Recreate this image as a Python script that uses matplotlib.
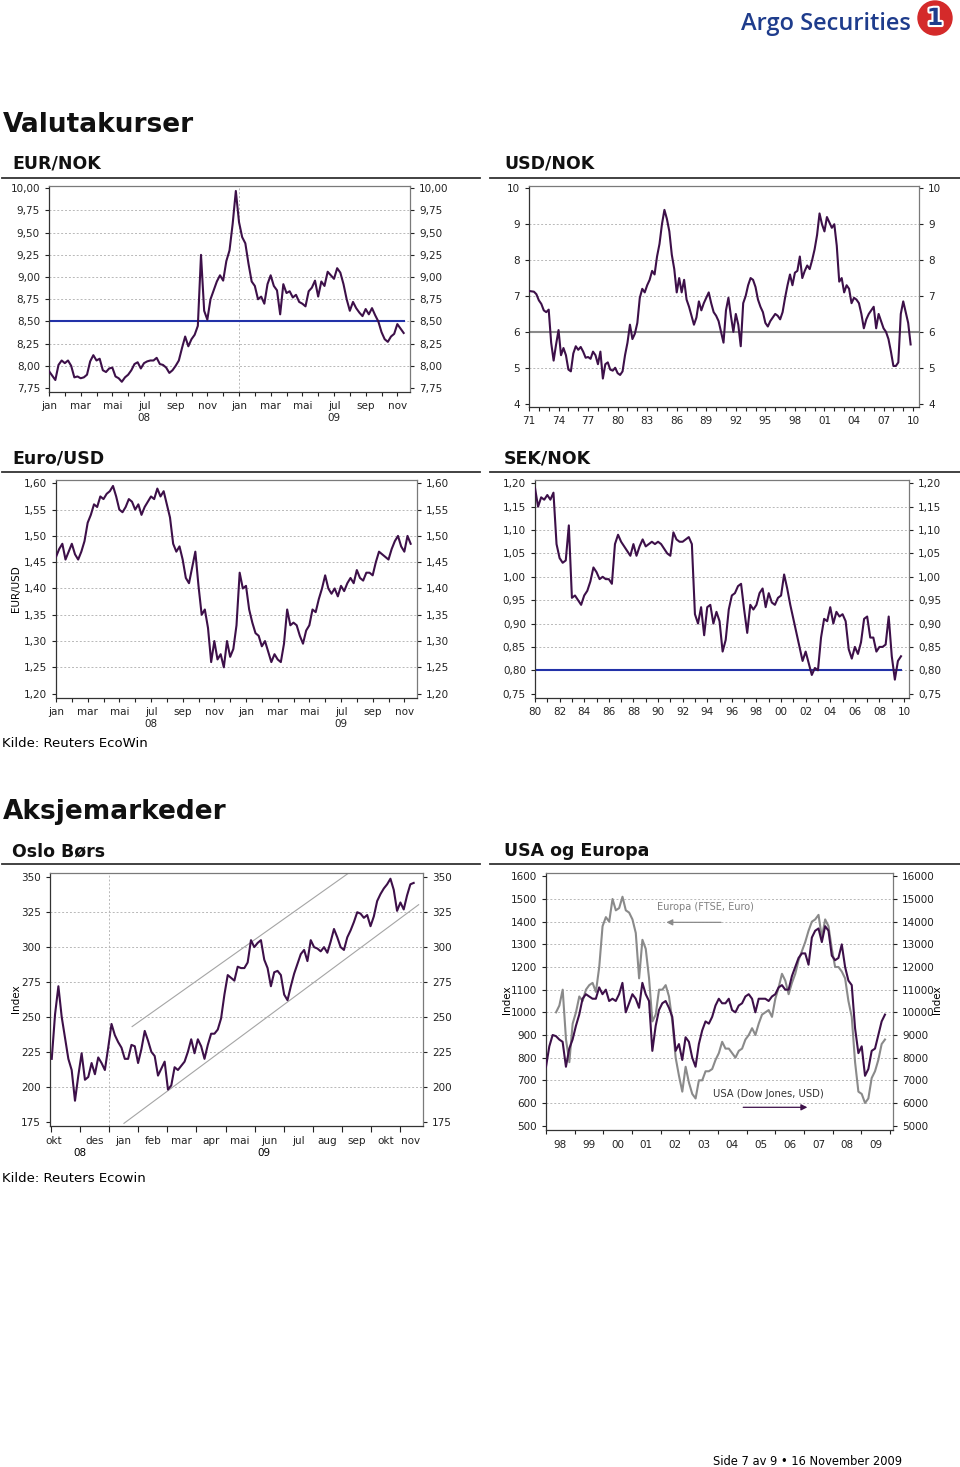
# -*- coding: utf-8 -*-
# Side 7: Valutakurser og Aksjemarkeder
import numpy as np
import matplotlib.pyplot as plt
from matplotlib.lines import Line2D
from matplotlib.patches import Ellipse
import matplotlib.patheffects as pe

plt.rcParams['font.family'] = ['DejaVu Sans']

# ---------------- data ----------------
# EUR/NOK, months since 1 jan 2008
eurnok_start, eurnok_end = 0.0, 22.4
eurnok = [7.94, 7.89, 7.84, 8.01, 8.06, 8.03, 8.06, 8.00, 7.87, 7.88, 7.86, 7.87, 7.90, 8.05, 8.12,
          8.06, 8.08, 7.95, 7.93, 7.97, 7.98, 7.88, 7.86, 7.82, 7.87, 7.90, 7.95, 8.02, 8.04, 7.97,
          8.03, 8.05, 8.06, 8.06, 8.09, 8.02, 8.01, 7.98, 7.92, 7.95, 8.00, 8.06, 8.20, 8.33, 8.22,
          8.30, 8.35, 8.45, 9.25, 8.62, 8.52, 8.75, 8.85, 8.95, 9.02, 8.96, 9.18, 9.30, 9.60, 9.97,
          9.62, 9.45, 9.38, 9.15, 8.95, 8.90, 8.75, 8.78, 8.70, 8.92, 9.02, 8.90, 8.85, 8.58, 8.92,
          8.82, 8.84, 8.77, 8.80, 8.72, 8.70, 8.67, 8.84, 8.88, 8.96, 8.78, 8.95, 8.90, 9.06, 9.02,
          8.98, 9.10, 9.05, 8.92, 8.75, 8.62, 8.72, 8.65, 8.60, 8.56, 8.64, 8.58, 8.65, 8.57, 8.50,
          8.38, 8.30, 8.27, 8.33, 8.36, 8.47, 8.42, 8.37]
eurnok_ref = 8.50

# USD/NOK, quarterly from 1971
usdnok_start, usdnok_end = 1971.0, 2009.75
usdnok = [7.14, 7.13, 7.12, 7.05, 6.88, 6.78, 6.60, 6.55, 6.62, 5.70, 5.20, 5.65, 6.05, 5.35, 5.55,
          5.35, 4.95, 4.90, 5.40, 5.60, 5.50, 5.58, 5.45, 5.28, 5.30, 5.25, 5.45, 5.35, 5.10, 5.45,
          4.70, 5.10, 5.15, 4.95, 4.92, 5.00, 4.85, 4.80, 4.90, 5.35, 5.70, 6.20, 5.80, 5.95, 6.25,
          6.95, 7.20, 7.10, 7.30, 7.45, 7.70, 7.60, 8.10, 8.45, 9.00, 9.40, 9.15, 8.80, 8.15, 7.75,
          7.10, 7.50, 7.10, 7.45, 6.90, 6.70, 6.45, 6.20, 6.40, 6.85, 6.60, 6.80, 6.95, 7.10, 6.80,
          6.55, 6.45, 6.30, 6.00, 5.70, 6.60, 6.95, 6.45, 6.00, 6.50, 6.20, 5.60, 6.80, 7.00, 7.30,
          7.50, 7.45, 7.25, 6.90, 6.70, 6.55, 6.25, 6.15, 6.30, 6.40, 6.50, 6.45, 6.35, 6.55, 6.95,
          7.30, 7.60, 7.30, 7.65, 7.70, 8.10, 7.50, 7.70, 7.85, 7.75, 8.00, 8.30, 8.70, 9.30, 9.00,
          8.80, 9.20, 9.05, 8.90, 9.00, 8.40, 7.40, 7.50, 7.10, 7.30, 7.20, 6.80, 6.95, 6.90, 6.80,
          6.50, 6.10, 6.35, 6.50, 6.60, 6.70, 6.10, 6.50, 6.30, 6.10, 6.00, 5.80, 5.45, 5.05, 5.05,
          5.15, 6.50, 6.85, 6.55, 6.25, 5.65]
usdnok_ref = 6.0

# Euro/USD, months since 1 jan 2008
eurusd_start, eurusd_end = 0.0, 22.4
eurusd = [1.460, 1.475, 1.485, 1.455, 1.470, 1.485, 1.465, 1.455, 1.470, 1.490, 1.525, 1.540, 1.560,
          1.555, 1.575, 1.570, 1.580, 1.585, 1.595, 1.575, 1.550, 1.545, 1.555, 1.570, 1.565, 1.550,
          1.560, 1.540, 1.555, 1.565, 1.575, 1.570, 1.590, 1.575, 1.585, 1.560, 1.535, 1.485, 1.470,
          1.480, 1.455, 1.420, 1.410, 1.440, 1.470, 1.405, 1.350, 1.360, 1.325, 1.260, 1.300, 1.265,
          1.275, 1.250, 1.300, 1.270, 1.285, 1.330, 1.430, 1.400, 1.405, 1.360, 1.335, 1.315, 1.310,
          1.290, 1.300, 1.280, 1.260, 1.275, 1.265, 1.260, 1.295, 1.360, 1.330, 1.335, 1.330, 1.310,
          1.295, 1.320, 1.330, 1.360, 1.355, 1.380, 1.400, 1.425, 1.400, 1.390, 1.400, 1.385, 1.405,
          1.395, 1.410, 1.420, 1.410, 1.435, 1.420, 1.415, 1.430, 1.430, 1.425, 1.450, 1.470, 1.465,
          1.460, 1.455, 1.475, 1.490, 1.500, 1.480, 1.470, 1.500, 1.485]

# SEK/NOK, quarterly from 1980
seknok_start, seknok_end = 1980.0, 2009.75
seknok = [1.190, 1.150, 1.170, 1.165, 1.175, 1.165, 1.180, 1.070, 1.040, 1.030, 1.035, 1.110, 0.955,
          0.960, 0.950, 0.940, 0.960, 0.970, 0.990, 1.020, 1.010, 0.995, 1.000, 0.995, 0.995, 0.985,
          1.070, 1.090, 1.075, 1.065, 1.055, 1.045, 1.070, 1.045, 1.065, 1.080, 1.065, 1.070, 1.075,
          1.070, 1.075, 1.070, 1.060, 1.050, 1.045, 1.095, 1.080, 1.075, 1.075, 1.080, 1.085, 1.070,
          0.920, 0.900, 0.935, 0.875, 0.935, 0.940, 0.900, 0.925, 0.905, 0.840, 0.865, 0.930, 0.960,
          0.965, 0.980, 0.985, 0.930, 0.880, 0.940, 0.930, 0.940, 0.965, 0.975, 0.935, 0.965, 0.945,
          0.940, 0.955, 0.960, 1.005, 0.975, 0.940, 0.910, 0.880, 0.850, 0.820, 0.840, 0.815, 0.790,
          0.805, 0.800, 0.870, 0.910, 0.905, 0.935, 0.900, 0.925, 0.915, 0.920, 0.905, 0.845, 0.825,
          0.850, 0.835, 0.860, 0.910, 0.915, 0.870, 0.870, 0.840, 0.850, 0.850, 0.855, 0.915, 0.830,
          0.780, 0.820, 0.830]
seknok_ref = 0.80

# Oslo Børs, months since 1 jan 2009
obx_start, obx_end = -1.97, 10.46
obx = [220, 252, 272, 250, 235, 220, 212, 190, 208, 224, 205, 207, 217, 209, 221, 217, 212, 228,
       245, 237, 232, 228, 220, 220, 230, 229, 217, 227, 240, 233, 225, 222, 208, 213, 218, 198,
       201, 214, 212, 215, 218, 225, 234, 224, 234, 229, 220, 230, 238, 238, 241, 249, 266, 280,
       278, 276, 286, 285, 285, 289, 305, 300, 303, 305, 291, 285, 272, 282, 283, 280, 266, 262,
       272, 281, 288, 295, 298, 290, 305, 300, 299, 297, 300, 296, 304, 313, 307, 300, 298, 307,
       312, 318, 325, 324, 321, 323, 315, 322, 333, 338, 342, 345, 349, 341, 326, 332, 327, 337,
       345, 346]
channel_upper_x, channel_upper_y = [0.79, 8.23], [243.1, 353.1]
channel_lower_x, channel_lower_y = [0.51, 10.63], [173.8, 330.4]

# USA (Dow Jones, USD) - right axis
dow_start, dow_end = 1998.0, 2009.82
dow = [7600, 8500, 9000, 8950, 8800, 8700, 7600, 8400, 8800, 9400, 9900, 10600, 10800, 10700,
       10600, 10600, 11100, 10800, 11000, 10500, 10600, 10500, 10800, 11300, 10000, 10400, 10800,
       10600, 10200, 11300, 10800, 10500, 8300, 9400, 10100, 10400, 10500, 10200, 9800, 8300, 8600,
       7900, 8900, 8700, 8000, 7600, 8600, 9200, 9600, 9500, 9800, 10300, 10600, 10400, 10400,
       10600, 10100, 10000, 10300, 10400, 10700, 10800, 10600, 10000, 10600, 10600, 10600, 10500,
       10700, 10800, 11100, 11200, 11000, 11000, 11600, 12000, 12400, 12600, 12600, 12100, 13300,
       13600, 13700, 13100, 13800, 13600, 12500, 12300, 12400, 13000, 12000, 11400, 11200, 9300,
       8200, 8500, 7200, 7500, 8300, 8400, 9000, 9600, 9900]
# Europa (FTSE, Euro) - left axis
ftse_start, ftse_end = 1998.35, 2009.82
ftse = [1000, 1030, 1100, 880, 780, 950, 1000, 1070, 1050, 1100, 1120, 1130, 1090, 1200, 1380,
        1420, 1400, 1500, 1450, 1460, 1510, 1450, 1440, 1410, 1350, 1150, 1320, 1280, 1150, 960,
        990, 1100, 1100, 1120, 1070, 960, 800, 720, 650, 760, 690, 640, 620, 700, 700, 740, 740,
        750, 790, 820, 870, 840, 840, 820, 800, 830, 840, 880, 900, 930, 900, 950, 990, 1000, 1010,
        980, 1060, 1110, 1170, 1140, 1080, 1130, 1170, 1230, 1270, 1310, 1360, 1400, 1410, 1430,
        1330, 1410, 1380, 1280, 1200, 1200, 1180, 1150, 1050, 980, 780, 650, 640, 600, 620, 710,
        740, 790, 860, 880]

month_names = ['jan', 'feb', 'mar', 'apr', 'mai', 'jun', 'jul', 'aug', 'sep', 'okt', 'nov', 'des']

PURPLE = '#3d1049'
BLUE = '#2232a8'
GRAY = '#8a8a8a'
GRID = '#b8b8b8'

W, H = 960, 1467
fig = plt.figure(figsize=(W / 100, H / 100), dpi=100)


def fx(x):
    return x / W


def fy(y):
    return 1 - y / H


def make_ax(l, t, r, b):
    ax = fig.add_axes([l / W, 1 - b / H, (r - l) / W, (b - t) / H])
    for s in ax.spines.values():
        s.set_color('#7a7a7a')
        s.set_linewidth(0.9)
    ax.spines['left'].set_color('#333333')
    ax.spines['bottom'].set_color('#333333')
    ax.tick_params(axis='both', which='both', direction='out', labelsize=7.5,
                   colors='#222222', length=3, width=0.8)
    return ax


def comma(v, nd):
    return f'{v:.{nd}f}'.replace('.', ',')


def y_setup(ax, ticks, lo, hi, nd, both=True):
    ax.set_ylim(lo, hi)
    ax.set_yticks(ticks, [comma(v, nd) for v in ticks])
    if both:
        ax.tick_params(axis='y', right=True, labelright=True)
    for v in ticks[1:-1]:
        ax.axhline(v, color=GRID, lw=0.7, ls=(0, (2, 2)), zorder=1)


def month_axis(ax):
    # jan 08 .. nov 09, label every second month
    pos = list(range(0, 23, 2))
    labels = []
    for m in pos:
        lab = month_names[m % 12]
        if m == 6:
            lab += '\n08'
        if m == 18:
            lab += '\n09'
        labels.append(lab)
    ax.set_xticks(pos, labels)
    ax.set_xticks(range(1, 23, 2), minor=True)
    ax.set_xlim(0, 22.8)


def header(x, y, text, x0, x1, yline):
    fig.text(fx(x), fy(y), text, fontsize=12.5, fontweight='bold', va='baseline', color='#111111')
    fig.add_artist(Line2D([fx(x0), fx(x1)], [fy(yline)] * 2, color='#333333', lw=1.3))


# ---------------- page furniture ----------------
fig.text(fx(741), fy(30), 'Argo Securities', fontsize=17, family=['Open Sans', 'DejaVu Sans'],
         fontweight='semibold', color='#1e3c8c', va='baseline')
fig.add_artist(Ellipse((fx(935), fy(18)), 34 / W, 34 / H, transform=fig.transFigure, color='#d42a2a'))
fig.text(fx(935), fy(18), '1', fontsize=17, fontweight='bold', color='#1e3c8c', ha='center', va='center',
         path_effects=[pe.withStroke(linewidth=3, foreground='white')])

fig.text(fx(3), fy(132), 'Valutakurser', fontsize=19, fontweight='bold', va='baseline', color='#111111')
fig.text(fx(3), fy(819), 'Aksjemarkeder', fontsize=19, fontweight='bold', va='baseline', color='#111111')

header(12, 168, 'EUR/NOK', 2, 480, 178)
header(504, 168, 'USD/NOK', 490, 960, 178)
header(12, 463, 'Euro/USD', 2, 480, 472)
header(504, 463, 'SEK/NOK', 490, 960, 472)
header(12, 856, 'Oslo Børs', 2, 480, 864)
header(504, 856, 'USA og Europa', 490, 960, 864)

fig.text(fx(2), fy(747), 'Kilde: Reuters EcoWin', fontsize=9.5, va='baseline')
fig.text(fx(2), fy(1182), 'Kilde: Reuters Ecowin', fontsize=9.5, va='baseline')
fig.text(fx(713), fy(1465), 'Side 7 av 9 \u2022 16 November 2009', fontsize=8.3, va='baseline')

# ---------------- EUR/NOK ----------------
ax = make_ax(49, 186, 410, 392)
t = np.linspace(eurnok_start, eurnok_end, len(eurnok))
y_setup(ax, [7.75, 8.00, 8.25, 8.50, 8.75, 9.00, 9.25, 9.50, 9.75, 10.00], 7.705, 10.026, 2)
month_axis(ax)
ax.axvline(12, color=GRID, lw=0.7, ls=(0, (2, 2)), zorder=1)
ax.plot([eurnok_start, eurnok_end], [eurnok_ref] * 2, color=BLUE, lw=1.5, zorder=2)
ax.plot(t, eurnok, color=PURPLE, lw=1.5, zorder=3)

# ---------------- USD/NOK ----------------
ax = make_ax(529, 186, 919, 407)
t = np.linspace(usdnok_start, usdnok_end, len(usdnok))
y_setup(ax, [4, 5, 6, 7, 8, 9, 10], 3.907, 10.065, 0)
ax.set_xlim(1971, 2010.6)
yrs = list(range(1971, 2011, 3))
ax.set_xticks(yrs, [f'{y % 100:02d}' for y in yrs])
ax.set_xticks(range(1971, 2011), minor=True)
ax.axhline(usdnok_ref, color=GRAY, lw=1.5, zorder=2)
ax.plot(t, usdnok, color=PURPLE, lw=1.5, zorder=3)

# ---------------- Euro/USD ----------------
ax = make_ax(56, 480, 417, 698)
t = np.linspace(eurusd_start, eurusd_end, len(eurusd))
y_setup(ax, [1.20, 1.25, 1.30, 1.35, 1.40, 1.45, 1.50, 1.55, 1.60], 1.1917, 1.6063, 2)
month_axis(ax)
ax.plot(t, eurusd, color=PURPLE, lw=1.5, zorder=3)
fig.text(fx(16), fy(589), 'EUR/USD', rotation=90, fontsize=7.5, ha='center', va='center')

# ---------------- SEK/NOK ----------------
ax = make_ax(535, 480, 909, 698)
t = np.linspace(seknok_start, seknok_end, len(seknok))
y_setup(ax, [0.75, 0.80, 0.85, 0.90, 0.95, 1.00, 1.05, 1.10, 1.15, 1.20], 0.7407, 1.2071, 2)
ax.set_xlim(1980, 2010.4)
yrs = list(range(1980, 2011, 2))
ax.set_xticks(yrs, [f'{y % 100:02d}' for y in yrs])
ax.set_xticks(range(1980, 2011), minor=True)
ax.plot([seknok_start, seknok_end], [seknok_ref] * 2, color=BLUE, lw=1.5, zorder=2)
ax.plot(t, seknok, color=PURPLE, lw=1.5, zorder=3)

# ---------------- Oslo Børs ----------------
ax = make_ax(50, 873, 423, 1126)
t = np.linspace(obx_start, obx_end, len(obx))
y_setup(ax, [175, 200, 225, 250, 275, 300, 325, 350], 171.9, 353.1, 0)
ax.set_xlim(-2.03, 10.78)
ax.set_xticks(range(-2, 11), [''] * 13)
centers = [-1.92, -0.5] + [m + 0.5 for m in range(0, 10)] + [10.36]
clabels = ['okt', 'des'] + month_names[0:10] + ['nov']
ax.set_xticks(centers, clabels, minor=True)
ax.tick_params(axis='x', which='minor', length=0, pad=7)
ax.tick_params(axis='x', which='major', length=4)
ax.axvline(0, color=GRID, lw=0.7, ls=(0, (2, 2)), zorder=1)
ax.text(-1.0, -0.088, '08', transform=ax.get_xaxis_transform(), fontsize=7.5, ha='center', va='top')
ax.text(5.33, -0.088, '09', transform=ax.get_xaxis_transform(), fontsize=7.5, ha='center', va='top')
ax.plot(channel_upper_x, channel_upper_y, color='#a5a5a5', lw=0.8, zorder=2)
ax.plot(channel_lower_x, channel_lower_y, color='#a5a5a5', lw=0.8, zorder=2)
ax.plot(t, obx, color=PURPLE, lw=1.5, zorder=3)
fig.text(fx(16), fy(999), 'Index', rotation=90, fontsize=7.5, ha='center', va='center')

# ---------------- USA og Europa ----------------
ax = make_ax(546, 873, 893, 1130)
ax2 = ax.twinx()
for s in ax2.spines.values():
    s.set_visible(False)
ax2.tick_params(axis='y', direction='out', labelsize=7.5, colors='#222222', length=3, width=0.8)
left_ticks = list(range(500, 1700, 100))
ax.set_ylim(480.9, 1614.7)
ax.set_yticks(left_ticks, [str(v) for v in left_ticks])
for v in left_ticks[1:-1]:
    ax.axhline(v, color=GRID, lw=0.7, ls=(0, (2, 2)), zorder=1)
right_ticks = list(range(5000, 17000, 1000))
ax2.set_ylim(4809, 16147)
ax2.set_yticks(right_ticks, [str(v) for v in right_ticks])
ax.set_xlim(1998.0, 2010.1)
ax.set_xticks(range(1998, 2011), [''] * 13)
ax.set_xticks([y + 0.5 for y in range(1998, 2010)],
              [f'{y % 100:02d}' for y in range(1998, 2010)], minor=True)
ax.tick_params(axis='x', which='minor', length=0, pad=7)
t_f = np.linspace(ftse_start, ftse_end, len(ftse))
t_d = np.linspace(dow_start, dow_end, len(dow))
ax.plot(t_f, ftse, color=GRAY, lw=1.5, zorder=3)
ax2.plot(t_d, dow, color=PURPLE, lw=1.5, zorder=3)
ax.text(2001.86, 1466, 'Europa (FTSE, Euro)', color='#808080', fontsize=7, va='center')
ax.annotate('', xy=(2002.1, 1397), xytext=(2004.2, 1397),
            arrowprops=dict(arrowstyle='-|>', color=GRAY, lw=0.9, mutation_scale=9))
ax2.text(2003.83, 6400, 'USA (Dow Jones, USD)', color='#333333', fontsize=7.2, va='center')
ax2.annotate('', xy=(2007.21, 5810), xytext=(2004.78, 5810),
             arrowprops=dict(arrowstyle='-|>', color=PURPLE, lw=0.9, mutation_scale=9))
fig.text(fx(507), fy(1000), 'Index', rotation=90, fontsize=7.5, ha='center', va='center')
fig.text(fx(937), fy(1000), 'Index', rotation=90, fontsize=7.5, ha='center', va='center')

fig.savefig('out.png', dpi=100)
